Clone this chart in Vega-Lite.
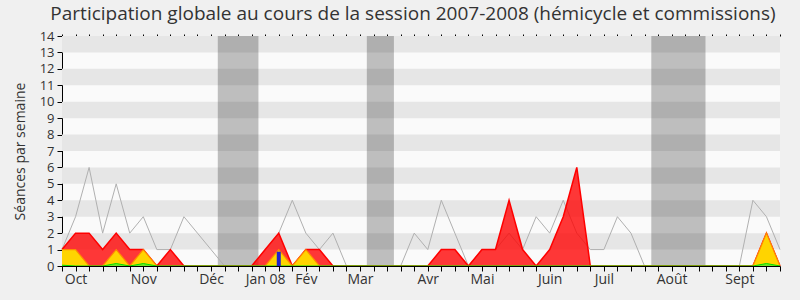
{
  "$schema": "https://vega.github.io/schema/vega-lite/v6.json",
  "width": 718,
  "height": 230,
  "autosize": "none",
  "padding": {"left": 62, "top": 36, "right": 20, "bottom": 34},
  "background": "#f0f0f0",
  "title": {
    "text": "Participation globale au cours de la session 2007-2008 (hémicycle et commissions)",
    "font": "Open Sans",
    "fontSize": 19,
    "fontWeight": "normal",
    "color": "#333333",
    "anchor": "middle",
    "frame": "group",
    "dx": -8,
    "offset": 6
  },
  "config": {
    "view": {"fill": "#fafafa", "stroke": null},
    "axis": {"labelFont": "Open Sans", "titleFont": "Open Sans", "labelColor": "#333333", "titleColor": "#333333"},
    "axisY": {"labelOverlap": false, "labelFlush": false, "grid": false, "tickSize": 5, "tickColor": "#000000", "domainColor": "#000000",
      "labelFontSize": 13, "labelPadding": 3, "titleFontSize": 14, "titleFontWeight": "normal", "titlePadding": 12, "zindex": 1}
  },
  "datasets": {
    "weeks": [
      {"w": 0, "grey": 1, "red": 1, "yellow": 1, "green": 0.05, "blue": 0},
      {"w": 1, "grey": 3, "red": 2, "yellow": 1, "green": 0, "blue": 0},
      {"w": 2, "grey": 6, "red": 2, "yellow": 0, "green": 0, "blue": 0},
      {"w": 3, "grey": 2, "red": 1, "yellow": 0, "green": 0, "blue": 0},
      {"w": 4, "grey": 5, "red": 2, "yellow": 1, "green": 0.15, "blue": 0},
      {"w": 5, "grey": 2, "red": 1, "yellow": 0, "green": 0, "blue": 0},
      {"w": 6, "grey": 3, "red": 1, "yellow": 1, "green": 0.15, "blue": 0},
      {"w": 7, "grey": 1, "red": 0, "yellow": 0, "green": 0, "blue": 0},
      {"w": 8, "grey": 1, "red": 1, "yellow": 0, "green": 0, "blue": 0},
      {"w": 9, "grey": 3, "red": 0, "yellow": 0, "green": 0, "blue": 0},
      {"w": 10, "grey": 2, "red": 0, "yellow": 0, "green": 0, "blue": 0},
      {"w": 11, "grey": 1, "red": 0, "yellow": 0, "green": 0, "blue": 0},
      {"w": 12, "grey": 0, "red": 0, "yellow": 0, "green": 0, "blue": 0},
      {"w": 13, "grey": 0, "red": 0, "yellow": 0, "green": 0, "blue": 0},
      {"w": 14, "grey": 0, "red": 0, "yellow": 0, "green": 0, "blue": 0},
      {"w": 15, "grey": 1, "red": 1, "yellow": 0, "green": 0, "blue": 0},
      {"w": 16, "grey": 2, "red": 2, "yellow": 1, "green": 0, "blue": 0.87},
      {"w": 17, "grey": 4, "red": 0, "yellow": 0, "green": 0, "blue": 0},
      {"w": 18, "grey": 2, "red": 1, "yellow": 1, "green": 0, "blue": 0},
      {"w": 19, "grey": 1, "red": 1, "yellow": 0, "green": 0, "blue": 0},
      {"w": 20, "grey": 2, "red": 0, "yellow": 0, "green": 0, "blue": 0},
      {"w": 21, "grey": 0, "red": 0, "yellow": 0, "green": 0, "blue": 0},
      {"w": 22, "grey": 0, "red": 0, "yellow": 0, "green": 0, "blue": 0},
      {"w": 23, "grey": 0, "red": 0, "yellow": 0, "green": 0, "blue": 0},
      {"w": 24, "grey": 0, "red": 0, "yellow": 0, "green": 0, "blue": 0},
      {"w": 25, "grey": 0, "red": 0, "yellow": 0, "green": 0, "blue": 0},
      {"w": 26, "grey": 2, "red": 0, "yellow": 0, "green": 0, "blue": 0},
      {"w": 27, "grey": 1, "red": 0, "yellow": 0, "green": 0, "blue": 0},
      {"w": 28, "grey": 4, "red": 1, "yellow": 0, "green": 0, "blue": 0},
      {"w": 29, "grey": 2, "red": 1, "yellow": 0, "green": 0, "blue": 0},
      {"w": 30, "grey": 0, "red": 0, "yellow": 0, "green": 0, "blue": 0},
      {"w": 31, "grey": 1, "red": 1, "yellow": 0, "green": 0, "blue": 0},
      {"w": 32, "grey": 1, "red": 1, "yellow": 0, "green": 0, "blue": 0},
      {"w": 33, "grey": 2, "red": 4, "yellow": 0, "green": 0, "blue": 0},
      {"w": 34, "grey": 1, "red": 1, "yellow": 0, "green": 0, "blue": 0},
      {"w": 35, "grey": 3, "red": 0, "yellow": 0, "green": 0, "blue": 0},
      {"w": 36, "grey": 2, "red": 1, "yellow": 0, "green": 0, "blue": 0},
      {"w": 37, "grey": 4, "red": 3, "yellow": 0, "green": 0, "blue": 0},
      {"w": 38, "grey": 2, "red": 6, "yellow": 0, "green": 0, "blue": 0},
      {"w": 39, "grey": 1, "red": 0, "yellow": 0, "green": 0, "blue": 0},
      {"w": 40, "grey": 1, "red": 0, "yellow": 0, "green": 0, "blue": 0},
      {"w": 41, "grey": 3, "red": 0, "yellow": 0, "green": 0, "blue": 0},
      {"w": 42, "grey": 2, "red": 0, "yellow": 0, "green": 0, "blue": 0},
      {"w": 43, "grey": 0, "red": 0, "yellow": 0, "green": 0, "blue": 0},
      {"w": 44, "grey": 0, "red": 0, "yellow": 0, "green": 0, "blue": 0},
      {"w": 45, "grey": 0, "red": 0, "yellow": 0, "green": 0, "blue": 0},
      {"w": 46, "grey": 0, "red": 0, "yellow": 0, "green": 0, "blue": 0},
      {"w": 47, "grey": 0, "red": 0, "yellow": 0, "green": 0, "blue": 0},
      {"w": 48, "grey": 0, "red": 0, "yellow": 0, "green": 0, "blue": 0},
      {"w": 49, "grey": 0, "red": 0, "yellow": 0, "green": 0, "blue": 0},
      {"w": 50, "grey": 0, "red": 0, "yellow": 0, "green": 0, "blue": 0},
      {"w": 51, "grey": 4, "red": 0, "yellow": 0, "green": 0, "blue": 0},
      {"w": 52, "grey": 3, "red": 2, "yellow": 2, "green": 0.15, "blue": 0},
      {"w": 53, "grey": 1, "red": 0, "yellow": 0, "green": 0, "blue": 0}
    ],
    "stripes": [
      {"lo": 1, "hi": 2}, {"lo": 3, "hi": 4}, {"lo": 5, "hi": 6}, {"lo": 7, "hi": 8},
      {"lo": 9, "hi": 10}, {"lo": 11, "hi": 12}, {"lo": 13, "hi": 14}
    ],
    "breaks": [
      {"start": 11.5, "end": 14.5}, {"start": 22.5, "end": 24.5}, {"start": 43.5, "end": 47.5}
    ]
  },
  "resolve": {"axis": {"x": "independent"}},
  "layer": [
    {
      "data": {"name": "stripes"},
      "mark": {"type": "rect", "color": "#e6e6e6"},
      "encoding": {
        "y": {"field": "lo", "type": "quantitative", "scale": {"domain": [0, 14], "nice": false, "zero": true},
          "axis": {"values": [0,1,2,3,4,5,6,7,8,9,10,11,12,13,14], "title": "Séances par semaine"}},
        "y2": {"field": "hi"}
      }
    },
    {
      "data": {"name": "breaks"},
      "mark": {"type": "rect", "color": "#000000", "opacity": 0.24},
      "encoding": {
        "x": {"field": "start", "type": "quantitative", "scale": {"domain": [0, 53], "nice": false, "zero": false, "padding": 0}, "axis": null},
        "x2": {"field": "end"}
      }
    },
    {
      "data": {"name": "weeks"},
      "mark": {"type": "line", "color": "#b0b0b0", "strokeWidth": 1},
      "encoding": {
        "x": {"field": "w", "type": "quantitative",
          "axis": {"orient": "top", "values": [0,1,2,3,4,5,6,7,8,9,10,11,12,13,14,15,16,17,18,19,20,21,22,23,24,25,26,27,28,29,30,31,32,33,34,35,36,37,38,39,40,41,42,43,44,45,46,47,48,49,50,51,52,53],
            "labels": false, "domain": false, "grid": false, "tickSize": 2, "tickColor": "#000000", "title": null}},
        "y": {"field": "grey", "type": "quantitative", "axis": {"values": [0,1,2,3,4,5,6,7,8,9,10,11,12,13,14], "title": "Séances par semaine"}}
      }
    },
    {
      "data": {"name": "weeks"},
      "mark": {"type": "area", "color": "#ff0000", "fillOpacity": 0.78, "line": {"color": "#ff0000", "strokeWidth": 1.5}},
      "encoding": {
        "x": {"field": "w", "type": "quantitative",
          "axis": {"orient": "bottom", "values": [0,1,2,3,4,5,6,7,8,9,10,11,12,13,14,15,16,17,18,19,20,21,22,23,24,25,26,27,28,29,30,31,32,33,34,35,36,37,38,39,40,41,42,43,44,45,46,47,48,49,50,51,52,53],
            "labelExpr": "datum.value == 1 ? 'Oct' : datum.value == 6 ? 'Nov' : datum.value == 11 ? 'Déc' : datum.value == 15 ? 'Jan 08' : datum.value == 18 ? 'Fév' : datum.value == 22 ? 'Mar' : datum.value == 27 ? 'Avr' : datum.value == 31 ? 'Mai' : datum.value == 36 ? 'Juin' : datum.value == 40 ? 'Juil' : datum.value == 45 ? 'Août' : datum.value == 50 ? 'Sept' : ''",
            "labelOverlap": false, "labelFlush": false, "labelFontSize": 14, "labelPadding": 1,
            "grid": false, "tickSize": 5, "tickColor": "#000000", "domainColor": "#000000", "title": null, "zindex": 1}},
        "y": {"field": "red", "type": "quantitative", "stack": null, "axis": {"values": [0,1,2,3,4,5,6,7,8,9,10,11,12,13,14], "title": "Séances par semaine"}}
      }
    },
    {
      "data": {"name": "weeks"},
      "mark": {"type": "area", "color": "#ffd400", "fillOpacity": 1, "line": {"color": "#ff8a00", "strokeWidth": 1.2}},
      "encoding": {
        "x": {"field": "w", "type": "quantitative", "axis": null},
        "y": {"field": "yellow", "type": "quantitative", "stack": null, "axis": {"values": [0,1,2,3,4,5,6,7,8,9,10,11,12,13,14], "title": "Séances par semaine"}}
      }
    },
    {
      "data": {"name": "weeks"},
      "mark": {"type": "area", "color": "#33ee33", "line": {"color": "#00dd00", "strokeWidth": 1}},
      "encoding": {
        "x": {"field": "w", "type": "quantitative", "axis": null},
        "y": {"field": "green", "type": "quantitative", "stack": null, "axis": {"values": [0,1,2,3,4,5,6,7,8,9,10,11,12,13,14], "title": "Séances par semaine"}}
      }
    },
    {
      "data": {"name": "weeks"},
      "transform": [{"filter": "datum.blue > 0"}],
      "mark": {"type": "bar", "color": "#2222cc", "width": 4},
      "encoding": {
        "x": {"field": "w", "type": "quantitative", "axis": null},
        "y": {"field": "blue", "type": "quantitative", "stack": null, "axis": {"values": [0,1,2,3,4,5,6,7,8,9,10,11,12,13,14], "title": "Séances par semaine"}}
      }
    }
  ]
}
